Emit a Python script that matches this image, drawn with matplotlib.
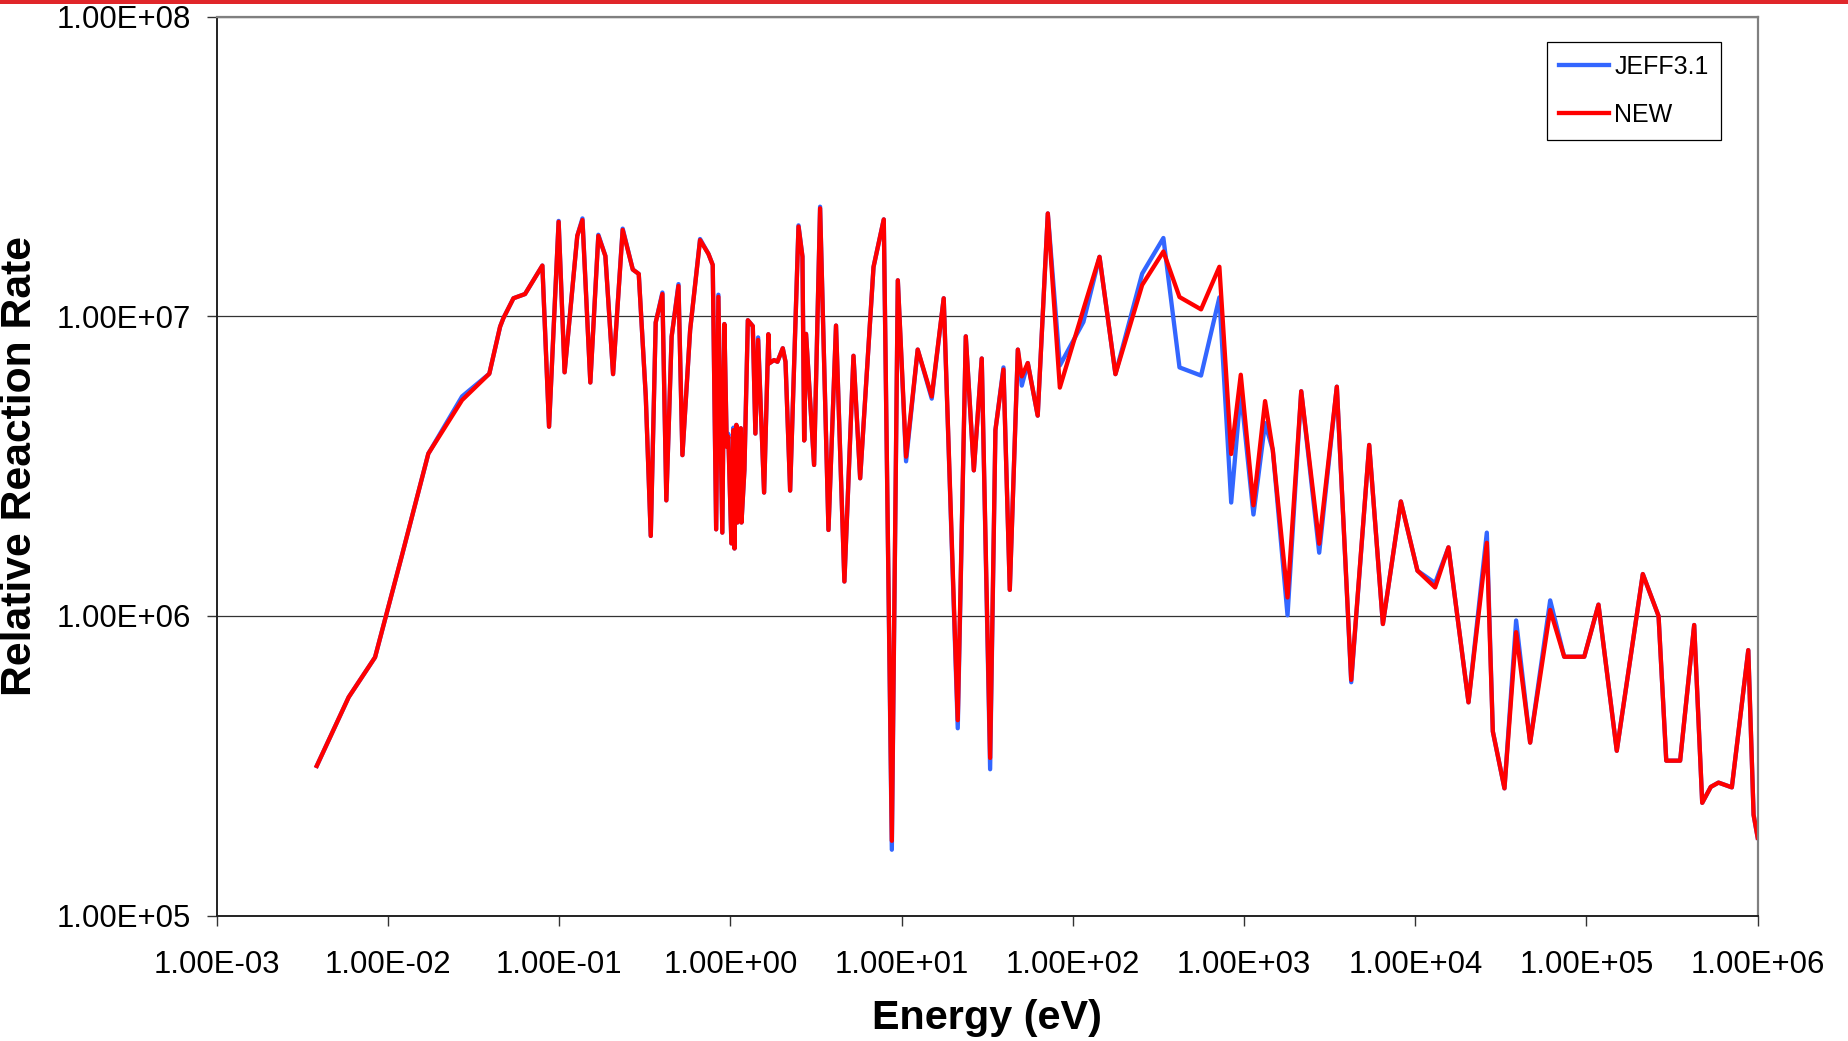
import matplotlib
matplotlib.use("Agg")
import matplotlib.pyplot as plt
from matplotlib.ticker import FixedLocator, FuncFormatter, NullLocator
from matplotlib.patches import Rectangle

plt.rcParams['font.family'] = ['Liberation Sans', 'DejaVu Sans']

# energy grid (eV), shared by both libraries
energy = [
    3.84e-3, 5.90e-3, 8.41e-3, 1.205e-2, 1.722e-2, 2.71e-2, 3.91e-2, 4.52e-2, 4.72e-2, 5.41e-2,
    6.32e-2, 7.98e-2, 8.73e-2, 9.93e-2, 0.1076, 0.1276, 0.1368, 0.1521, 0.1694, 0.1862,
    0.2065, 0.2350, 0.2692, 0.2917, 0.3206, 0.3428, 0.3664, 0.4009, 0.4227, 0.4539,
    0.4977, 0.5248, 0.5821, 0.6653, 0.7447, 0.7889, 0.8260, 0.8511, 0.8974, 0.9226,
    0.9528, 0.9727, 1.014, 1.042, 1.057, 1.084, 1.099, 1.151, 1.161, 1.208,
    1.265, 1.352, 1.400, 1.452, 1.574, 1.667, 1.690, 1.799, 1.884, 2.023,
    2.099, 2.234, 2.500, 2.636, 2.698, 2.767, 3.083, 3.342, 3.741, 4.140,
    4.634, 5.236, 5.728, 6.855, 7.870, 8.770, 9.506, 10.62, 12.42, 15.00,
    17.62, 21.28, 23.71, 26.42, 29.38, 32.89, 35.32, 39.36, 42.85, 47.75,
    50.35, 54.58, 62.37, 71.45, 84.0, 115.3, 143.2, 177.4, 254.1, 338.1,
    419.8, 561.0, 717.8, 841.4, 957.2, 1135, 1327, 1472, 1795, 2158,
    2748, 3483, 4227, 5383, 6471, 8241, 1.030e4, 1.306e4, 1.563e4, 2.046e4,
    2.618e4, 2.838e4, 3.319e4, 3.882e4, 4.688e4, 6.138e4, 7.413e4, 9.705e4, 1.175e5, 1.503e5,
    2.133e5, 2.636e5, 2.924e5, 3.524e5, 4.256e5, 4.742e5, 5.321e5, 5.902e5, 7.063e5, 8.810e5,
    9.462e5, 1.0e6,
]

rate_new = [
    3.16e5, 5.36e5, 7.28e5, 1.585e6, 3.48e6, 5.25e6, 6.43e6, 9.23e6, 9.84e6, 1.148e7,
    1.186e7, 1.476e7, 4.28e6, 2.065e7, 6.50e6, 1.854e7, 2.094e7, 6.01e6, 1.854e7, 1.589e7,
    6.41e6, 1.941e7, 1.432e7, 1.384e7, 5.40e6, 1.849e6, 9.53e6, 1.186e7, 2.43e6, 8.55e6,
    1.262e7, 3.44e6, 8.99e6, 1.795e7, 1.614e7, 1.483e7, 1.945e6, 1.161e7, 1.897e6, 9.42e6,
    3.67e6, 3.96e6, 1.746e6, 4.17e6, 1.679e6, 4.34e6, 2.05e6, 4.23e6, 2.05e6, 3.07e6,
    9.70e6, 9.27e6, 4.06e6, 8.34e6, 2.58e6, 8.71e6, 6.97e6, 7.14e6, 7.05e6, 7.82e6,
    7.05e6, 2.62e6, 1.991e7, 1.581e7, 3.85e6, 8.73e6, 3.19e6, 2.291e7, 1.936e6, 9.31e6,
    1.303e6, 7.38e6, 2.88e6, 1.459e7, 2.104e7, 1.778e5, 1.318e7, 3.40e6, 7.74e6, 5.40e6,
    1.148e7, 4.49e5, 8.57e6, 3.06e6, 7.23e6, 3.36e5, 4.17e6, 6.64e6, 1.222e6, 7.74e6,
    6.30e6, 6.98e6, 4.66e6, 2.203e7, 5.78e6, 1.054e7, 1.578e7, 6.41e6, 1.271e7, 1.644e7,
    1.159e7, 1.054e7, 1.462e7, 3.47e6, 6.38e6, 2.34e6, 5.21e6, 3.58e6, 1.153e6, 5.62e6,
    1.742e6, 5.82e6, 6.12e5, 3.72e6, 9.40e5, 2.41e6, 1.416e6, 1.245e6, 1.694e6, 5.15e5,
    1.754e6, 4.12e5, 2.66e5, 8.83e5, 3.78e5, 1.047e6, 7.31e5, 7.31e5, 1.091e6, 3.55e5,
    1.380e6, 1.000e6, 3.29e5, 3.29e5, 9.33e5, 2.38e5, 2.69e5, 2.78e5, 2.68e5, 7.69e5,
    2.17e5, 1.82e5,
]

rate_jeff = [
    3.16e5, 5.36e5, 7.28e5, 1.585e6, 3.48e6, 5.40e6, 6.43e6, 9.23e6, 9.84e6, 1.148e7,
    1.186e7, 1.476e7, 4.28e6, 2.08e7, 6.50e6, 1.854e7, 2.12e7, 6.01e6, 1.87e7, 1.589e7,
    6.41e6, 1.96e7, 1.432e7, 1.384e7, 5.40e6, 1.849e6, 9.53e6, 1.20e7, 2.43e6, 8.55e6,
    1.28e7, 3.44e6, 8.99e6, 1.81e7, 1.614e7, 1.483e7, 1.945e6, 1.18e7, 1.897e6, 9.42e6,
    3.67e6, 4.05e6, 1.746e6, 4.25e6, 1.679e6, 4.34e6, 2.05e6, 4.23e6, 2.05e6, 3.07e6,
    9.70e6, 9.27e6, 4.06e6, 8.50e6, 2.58e6, 8.71e6, 6.97e6, 7.14e6, 7.05e6, 7.82e6,
    7.05e6, 2.62e6, 2.01e7, 1.581e7, 3.85e6, 8.73e6, 3.19e6, 2.32e7, 1.936e6, 9.31e6,
    1.303e6, 7.38e6, 2.88e6, 1.459e7, 2.104e7, 1.66e5, 1.318e7, 3.28e6, 7.74e6, 5.31e6,
    1.148e7, 4.22e5, 8.57e6, 3.06e6, 7.23e6, 3.08e5, 4.17e6, 6.75e6, 1.222e6, 7.74e6,
    5.87e6, 6.98e6, 4.66e6, 2.203e7, 6.85e6, 9.57e6, 1.578e7, 6.41e6, 1.387e7, 1.824e7,
    6.75e6, 6.34e6, 1.156e7, 2.39e6, 5.62e6, 2.18e6, 4.40e6, 3.58e6, 1.005e6, 5.62e6,
    1.626e6, 5.82e6, 6.01e5, 3.72e6, 9.40e5, 2.41e6, 1.416e6, 1.288e6, 1.694e6, 5.15e5,
    1.897e6, 4.12e5, 2.66e5, 9.66e5, 3.78e5, 1.127e6, 7.31e5, 7.31e5, 1.091e6, 3.55e5,
    1.380e6, 1.000e6, 3.29e5, 3.29e5, 9.33e5, 2.38e5, 2.69e5, 2.78e5, 2.68e5, 7.69e5,
    2.17e5, 1.82e5,
]

x_ticks = [1e-3, 1e-2, 1e-1, 1e0, 1e1, 1e2, 1e3, 1e4, 1e5, 1e6]
y_ticks = [1e5, 1e6, 1e7, 1e8]

W, H = 1849, 1041
fig = plt.figure(figsize=(W / 100, H / 100), dpi=100)
ax = fig.add_axes([216.7 / W, 1 - 915.7 / H, (1757.7 - 216.7) / W, (915.7 - 16.5) / H])

ax.plot(energy, rate_jeff, color='#3366FF', lw=3.1, label='JEFF3.1', solid_joinstyle='round')
ax.plot(energy, rate_new, color='#FF0000', lw=3.1, label='NEW', solid_joinstyle='round')

ax.set_xscale('log')
ax.set_yscale('log')
ax.set_xlim(1e-3, 1e6)
ax.set_ylim(1e5, 1e8)

fmt = FuncFormatter(lambda v, p: f"{v:.2E}")
ax.xaxis.set_major_locator(FixedLocator(x_ticks))
ax.yaxis.set_major_locator(FixedLocator(y_ticks))
ax.xaxis.set_minor_locator(NullLocator())
ax.yaxis.set_minor_locator(NullLocator())
ax.xaxis.set_major_formatter(fmt)
ax.yaxis.set_major_formatter(fmt)
ax.tick_params(axis='both', direction='out', length=7, width=1.0, color='#333333',
               labelsize=22.4, labelcolor='black')
ax.tick_params(axis='x', pad=17.5)
ax.tick_params(axis='y', pad=11.5)

ax.grid(axis='y', color='#333333', lw=0.9)
ax.set_axisbelow(True)

for side in ['left', 'bottom']:
    ax.spines[side].set_color('#222222')
    ax.spines[side].set_linewidth(1.4)
for side in ['top', 'right']:
    ax.spines[side].set_color('#808080')
    ax.spines[side].set_linewidth(1.6)

ax.set_xlabel('Energy (eV)', fontsize=29.8, fontweight='bold')
ax.set_ylabel('Relative Reaction Rate', fontsize=30.7, fontweight='bold')
ax.xaxis.set_label_coords(0.5, -0.093)
ax.xaxis.label.set_va('top')
ax.yaxis.set_label_coords(-0.1147, 0.5)

leg = ax.legend(loc='upper left', bbox_to_anchor=(1547 / W, 1 - 42 / H),
                bbox_transform=fig.transFigure, fontsize=18, frameon=True,
                fancybox=False, edgecolor='black', framealpha=1,
                handlelength=2.0, handletextpad=0.2, borderpad=0.5,
                labelspacing=0.98, borderaxespad=0)
leg.get_frame().set_linewidth(0.9)

# thin red band along the top of the slide
fig.add_artist(Rectangle((0, 1 - 3.5 / H), 1, 3.5 / H, transform=fig.transFigure,
                         color='#E0262A', lw=0))

fig.savefig('out.png', dpi=100)
